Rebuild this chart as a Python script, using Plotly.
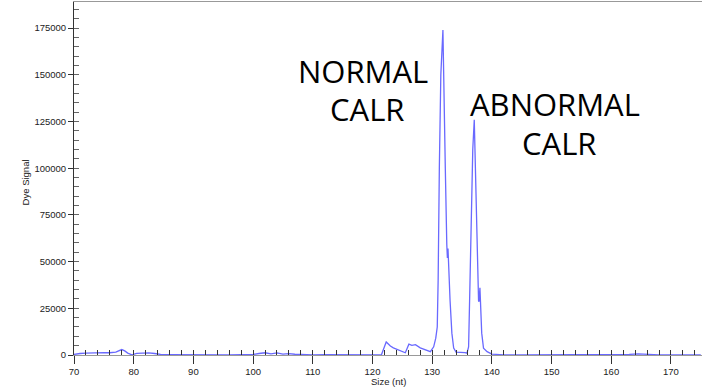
import plotly.graph_objects as go

# Electropherogram trace
size_nt = [70.0, 70.5, 71, 72, 73, 74, 75, 76, 77, 78, 78.5, 79, 79.7, 80.5, 81.5, 82.5, 83.5,
           84.5, 86, 88, 90, 92, 94, 96, 98, 100, 101, 102, 103, 104, 105, 106, 107, 108,
           110, 112, 114, 116, 118, 120, 121.5, 122.3, 123.0, 123.5, 124.5, 125.5, 125.8,
           126.1, 126.6, 127.2, 128, 129, 129.7, 130.25, 130.6, 130.85, 131.0, 131.2,
           131.45, 131.8, 131.95, 132.2, 132.45, 132.55, 132.65, 132.75, 133.0, 133.3,
           133.6, 134.0, 134.5, 135.0, 135.5, 135.83, 136.1, 136.27, 136.5, 136.8, 137.05,
           137.2, 137.5, 137.77, 137.85, 138.0, 138.3, 138.6, 139.2, 140, 142, 145, 150,
           155, 160, 163, 164.5, 166, 168, 170, 172, 175]
dye_signal = [300, 600, 800, 1000, 1200, 1000, 1300, 1200, 1500, 2900, 2200, 1000, 100, 900,
              1000, 1100, 800, 300, 200, 100, 100, 200, 100, 100, 200, 300, 800, 1200, 600,
              1100, 500, 700, 400, 200, 100, 200, 100, 100, 100, 100, 100, 7000, 4800, 3800,
              2500, 1200, 3500, 5800, 5200, 5500, 3800, 2800, 1800, 4400, 9000, 15000, 40000,
              100000, 150000, 174000, 136000, 100000, 59000, 52000, 57000, 47000, 29000,
              11700, 3700, 1500, 1500, 1200, 1300, 1000, 4300, 29000, 65000, 110000, 126000,
              100000, 65000, 29000, 28500, 36000, 11700, 3700, 1800, 500, 100, 100, 100, 100,
              100, 300, 600, 300, 100, 100, 100, 100]

x_range = [70, 175.2]
y_range = [0, 189000]
x_ticks = [70, 80, 90, 100, 110, 120, 130, 140, 150, 160, 170]
y_ticks = [0, 25000, 50000, 75000, 100000, 125000, 150000, 175000]

labels = [
    ("NORMAL", 118.4, 152000),
    ("CALR", 119.0, 131500),
    ("ABNORMAL", 150.6, 134500),
    ("CALR", 151.3, 113500),
]

fig = go.Figure()
fig.add_trace(go.Scatter(x=size_nt, y=dye_signal, mode="lines",
                         line=dict(color="rgb(105,105,255)", width=1.3),
                         showlegend=False, hoverinfo="skip"))
fig.add_trace(go.Scatter(x=[None], y=[None], xaxis="x2", yaxis="y2",
                         showlegend=False, hoverinfo="skip"))

tick_font = dict(family="Liberation Sans, Arial, sans-serif", size=9.5, color="#222")

fig.update_layout(
    template="none",
    width=702, height=391,
    margin=dict(l=74, r=0, t=2, b=36, autoexpand=False),
    paper_bgcolor="white", plot_bgcolor="white",
    xaxis=dict(range=x_range, tickvals=x_ticks, ticks="outside", ticklen=8,
               tickcolor="#333", tickwidth=1, showgrid=False, zeroline=False,
               showline=True, linecolor="#999", linewidth=1, mirror=True,
               tickfont=tick_font, automargin=False),
    yaxis=dict(range=y_range, tickvals=y_ticks, tickformat="d", ticks="outside",
               ticklen=5, tickcolor="#333", showgrid=False, zeroline=False,
               showline=True, linecolor="#333", linewidth=1, tickfont=tick_font,
               automargin=False),
    xaxis2=dict(range=x_range, overlaying="x", anchor="y", side="bottom",
                ticks="inside", dtick=2, tick0=70, ticklen=5, tickcolor="#333",
                showticklabels=False, showgrid=False, zeroline=False, showline=False,
                automargin=False),
    yaxis2=dict(range=y_range, overlaying="y", anchor="x", side="left",
                ticks="inside", dtick=5000, tick0=0, ticklen=5, tickcolor="#666",
                showticklabels=False, showgrid=False, zeroline=False, showline=False,
                automargin=False),
)

for text, x, y in labels:
    fig.add_annotation(x=x, y=y, xref="x", yref="y", text=text, showarrow=False,
                       font=dict(family="Open Sans, sans-serif", size=31, color="black"),
                       xanchor="center", yanchor="middle")

fig.add_annotation(x=0.5, y=-0.076, xref="paper", yref="paper", text="Size (nt)",
                   showarrow=False, font=tick_font, xanchor="center", yanchor="middle")
fig.add_annotation(x=-0.078, y=0.489, xref="paper", yref="paper", text="Dye Signal",
                   showarrow=False, textangle=-90, font=tick_font,
                   xanchor="center", yanchor="middle")

fig.write_html("out.html", config={"displayModeBar": False},
               post_script="document.body.style.margin='0';")
